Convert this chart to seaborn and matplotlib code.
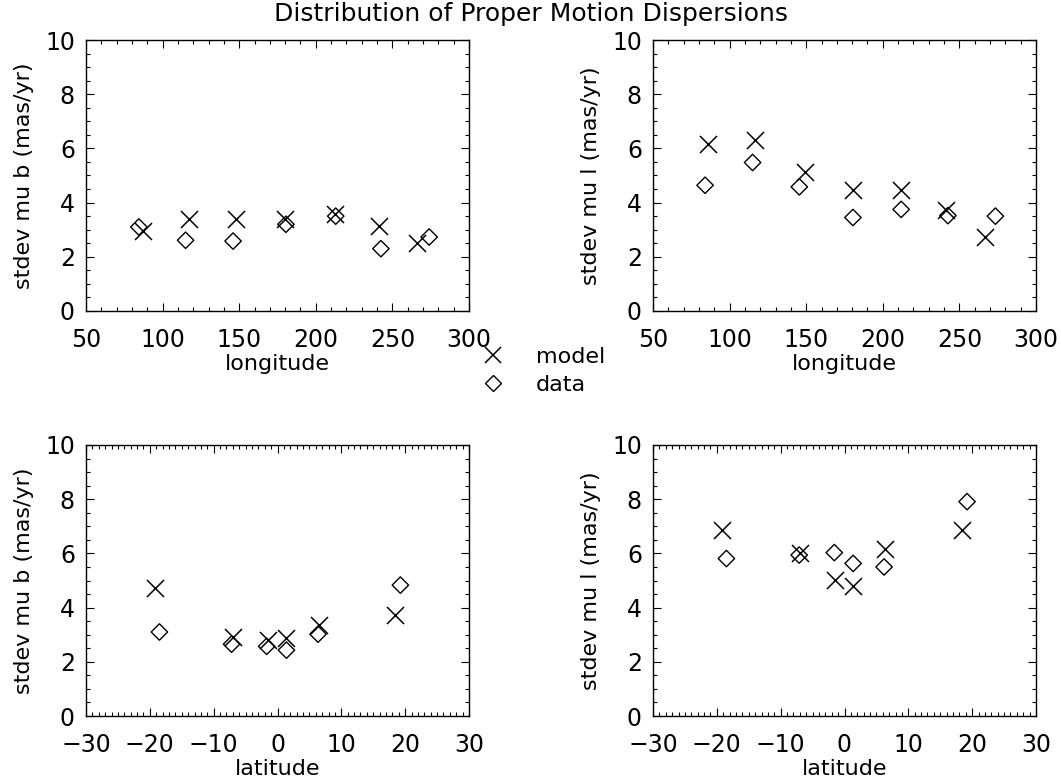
import matplotlib
matplotlib.use('Agg')
import matplotlib.pyplot as plt
import seaborn as sns
import pandas as pd
from matplotlib.ticker import MultipleLocator
from matplotlib.lines import Line2D

# Значения
lon_model = [87, 117, 148, 180, 212.5, 241.5, 266]
mub_lon_model = [2.94, 3.40, 3.40, 3.38, 3.59, 3.14, 2.52]
lon_data = [84.5, 115, 146, 180.5, 213, 242.5, 274]
mub_lon_data = [3.10, 2.61, 2.58, 3.20, 3.50, 2.30, 2.73]

mul_lon_model = [6.18, 6.30, 5.13, 4.46, 4.46, 3.72, 2.73]
lon_model_r = [86, 116.5, 149.5, 180.5, 212, 241.5, 266.5]
lon_data_r = [84, 115, 145.5, 180.5, 212, 242.5, 273.5]
mul_lon_data = [4.64, 5.48, 4.58, 3.45, 3.75, 3.52, 3.50]

lat_model = [-19.2, -6.9, -1.5, 1.35, 6.45, 18.45]
mub_lat_model = [4.74, 2.92, 2.82, 2.86, 3.35, 3.72]
lat_data = [-18.5, -7.2, -1.7, 1.4, 6.35, 19.25]
mub_lat_data = [3.10, 2.65, 2.57, 2.43, 3.02, 4.83]

mul_lat_model = [6.88, 6.02, 5.01, 4.80, 6.18, 6.88]
lat_model_r = [-19.2, -6.9, -1.5, 1.35, 6.35, 18.45]
lat_data_r = [-18.5, -7.1, -1.6, 1.35, 6.2, 19.2]
mul_lat_data = [5.81, 5.94, 6.03, 5.63, 5.50, 7.91]

sns.set_style("white")
plt.rcParams['font.family'] = ['DejaVu Sans']
plt.rcParams['text.color'] = 'black'
plt.rcParams['axes.labelcolor'] = 'black'
plt.rcParams['xtick.color'] = 'black'
plt.rcParams['ytick.color'] = 'black'
FS = 16

fig = plt.figure(figsize=(10.61, 7.84), dpi=100)

W = 383 / 1061
H = 271 / 784
positions = [
    [86 / 1061, 1 - 311 / 784, W, H],
    [653 / 1061, 1 - 311 / 784, W, H],
    [86 / 1061, 1 - 716 / 784, W, H],
    [653 / 1061, 1 - 716 / 784, W, H],
]

panels = [
    (lon_model, mub_lon_model, lon_data, mub_lon_data, 'longitude', 'stdev mu b (mas/yr)', (50, 300), 50, 10),
    (lon_model_r, mul_lon_model, lon_data_r, mul_lon_data, 'longitude', 'stdev mu l (mas/yr)', (50, 300), 50, 10),
    (lat_model, mub_lat_model, lat_data, mub_lat_data, 'latitude', 'stdev mu b (mas/yr)', (-30, 30), 10, 1),
    (lat_model_r, mul_lat_model, lat_data_r, mul_lat_data, 'latitude', 'stdev mu l (mas/yr)', (-30, 30), 10, 1),
]

for pos, (xm, ym, xd, yd, xlab, ylab, xlim, xmaj, xmin) in zip(positions, panels):
    ax = fig.add_axes(pos)
    dm = pd.DataFrame({'x': xm, 'y': ym})
    dd = pd.DataFrame({'x': xd, 'y': yd})
    sns.scatterplot(data=dm, x='x', y='y', marker='x', s=150, color='black',
                    linewidth=1.1, ax=ax)
    sns.scatterplot(data=dd, x='x', y='y', marker='D', s=70, facecolors='none',
                    edgecolor='black', linewidth=1.0, ax=ax)
    ax.set_xlim(*xlim)
    ax.set_ylim(0, 10)
    ax.xaxis.set_major_locator(MultipleLocator(xmaj))
    ax.xaxis.set_minor_locator(MultipleLocator(xmin))
    ax.yaxis.set_major_locator(MultipleLocator(2))
    ax.yaxis.set_minor_locator(MultipleLocator(0.5))
    ax.tick_params(which='both', direction='in', top=True, right=True,
                   bottom=True, left=True, color='black', width=0.8,
                   labelsize=17)
    ax.tick_params(axis='x', pad=12)
    ax.tick_params(axis='y', pad=8)
    ax.tick_params(which='major', length=6)
    ax.tick_params(which='minor', length=3)
    for s in ax.spines.values():
        s.set_color('black')
        s.set_linewidth(1.0)
    ax.set_xlabel(xlab, fontsize=FS, labelpad=2)
    ax.set_ylabel(ylab, fontsize=FS, labelpad=8)

fig.suptitle('Distribution of Proper Motion Dispersions', fontsize=18, y=0.998)

handles = [
    Line2D([], [], marker='x', color='black', linestyle='none', markersize=12, markeredgewidth=1.1),
    Line2D([], [], marker='D', color='black', markerfacecolor='none', linestyle='none',
           markersize=8, markeredgewidth=1.0),
]
fig.legend(handles, ['model', 'data'], loc='center', bbox_to_anchor=(0.507, 0.527),
           frameon=False, fontsize=FS, handletextpad=0.9, labelspacing=0.35)

plt.savefig('out.png', dpi=100)
plt.close()
